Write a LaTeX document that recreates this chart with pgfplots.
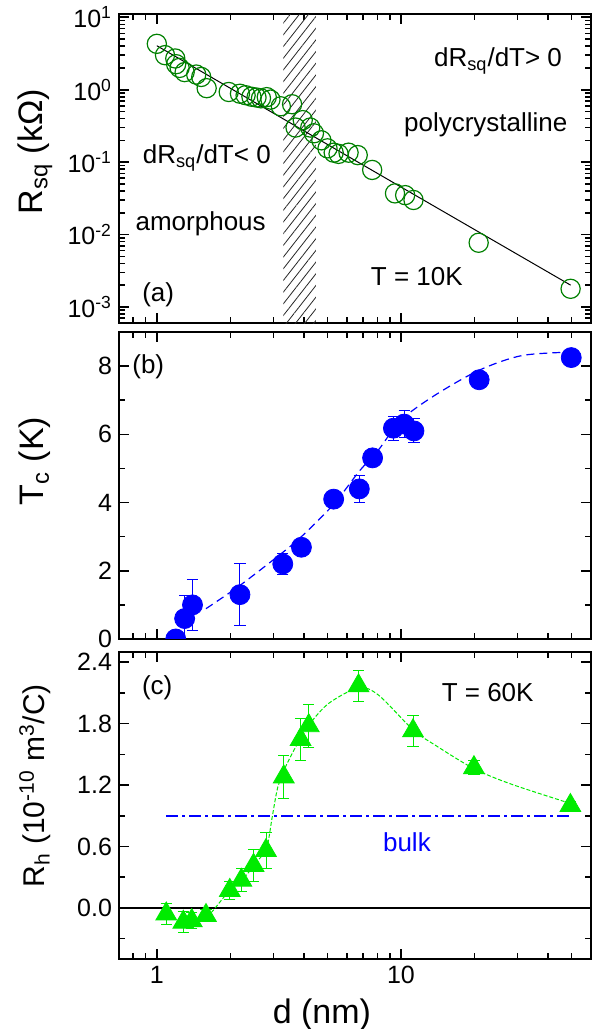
\documentclass[border=0pt]{standalone}
\usepackage{fontspec}
\setmainfont{Liberation Sans}
\usepackage{pgfplots}
\pgfplotsset{compat=1.18}
\usetikzlibrary{patterns.meta}
\definecolor{dgreen}{rgb}{0,0.5,0}
\definecolor{lgreen}{rgb}{0,0.92,0}
\definecolor{pblue}{rgb}{0,0,1}
\newcommand{\ann}{\fontsize{13}{15}\selectfont}
\begin{document}
\begin{tikzpicture}
\useasboundingbox (-59.5pt,7pt) rectangle (237.5pt,-507.5pt);
% ---------------- panel (a)
\begin{axis}[scale only axis, width=236pt, height=154.5pt,
  at={(0,0)}, anchor=north west,
  xmode=log, log basis x=10, xmin=0.7, xmax=60,
  ymode=log, log basis y=10, ymin=6e-4, ymax=11.1,
  axis line style={line width=1pt},
  every tick/.style={black, line width=0.8pt},
  major tick length=5pt, minor tick length=3pt,
  tick label style={font=\fontsize{12.5}{14}\selectfont},
  label style={font=\fontsize{17}{20}\selectfont},
  yticklabel={10\textsuperscript{\pgfmathparse{int(round(\tick))}\pgfmathresult}},
  xticklabels={},
  ylabel={R\textsubscript{sq} (kΩ)},
  ylabel style={at={(axis description cs:-0.178,0.554)}, anchor=center}]
\addplot[draw=none, pattern={Lines[angle=52,distance=3.6pt,line width=0.4pt]}, pattern color=black!85]
  coordinates {(3.30,1e-4) (3.30,100) (4.48,100) (4.48,1e-4) (3.30,1e-4)};
\addplot[black, line width=0.5pt] coordinates {(1,4.05) (49.5,0.002)};
\addplot[only marks, mark=o, mark size=4.8pt, dgreen, mark options={line width=0.6pt}] coordinates {
(1.00,4.3) (1.08,3.0) (1.19,2.7) (1.20,2.25) (1.24,2.0) (1.30,1.75) (1.45,1.62) (1.52,1.5) (1.60,1.05)
(1.97,0.93) (2.19,0.88) (2.31,0.84) (2.44,0.80) (2.56,0.78) (2.67,0.76) (2.82,0.79) (2.92,0.73)
(3.22,0.59) (3.58,0.63) (3.70,0.30) (3.96,0.38) (4.25,0.30) (4.40,0.25) (4.72,0.20) (5.00,0.155)
(5.30,0.135) (5.55,0.13) (6.10,0.135) (6.65,0.125) (7.62,0.078) (9.45,0.037) (10.4,0.035) (11.25,0.030)
(20.8,0.0077) (49.5,0.00178)};
\node[font=\ann, anchor=base] at (rel axis cs:0.803,0.829) {dR\textsubscript{sq}/dT> 0};
\node[font=\ann, anchor=base] at (rel axis cs:0.777,0.619) {polycrystalline};
\node[font=\ann, anchor=base] at (rel axis cs:0.186,0.515) {dR\textsubscript{sq}/dT< 0};
\node[font=\ann, anchor=base] at (rel axis cs:0.173,0.299) {amorphous};
\node[font=\ann, anchor=base] at (rel axis cs:0.631,0.121) {T = 10K};
\node[font=\ann, anchor=base] at (rel axis cs:0.083,0.069) {(a)};
\end{axis}
% ---------------- panel (b)
\begin{axis}[scale only axis, width=236pt, height=153.5pt,
  at={(0,-159pt)}, anchor=north west,
  xmode=log, log basis x=10, xmin=0.7, xmax=60,
  ymin=0, ymax=9, ytick={0,2,4,6,8}, yticklabels={0,2,4,6,8}, minor ytick={1,3,5,7},
  axis line style={line width=1pt},
  every tick/.style={black, line width=0.8pt},
  major tick length=5pt, minor tick length=3pt,
  tick label style={font=\fontsize{12.5}{14}\selectfont},
  label style={font=\fontsize{17}{20}\selectfont},
  xticklabels={}, clip marker paths=true,
  ylabel={T\textsubscript{c} (K)},
  ylabel style={at={(axis description cs:-0.178,0.58)}, anchor=center}]
\addplot[pblue, line width=0.6pt, dash pattern=on 4pt off 2.5pt, smooth] coordinates {
(1.59,0.89) (2.19,1.57) (3.28,2.54) (3.95,3.03) (5.3,3.95) (6.75,4.92) (8.1,5.55) (10,6.42)
(13.8,7.15) (20.9,7.88) (31.3,8.31) (49.8,8.41)};
\addplot[pblue, only marks, mark=*, mark size=5pt, mark options={draw=pblue, fill=pblue},
  error bars/.cd, y dir=both, y explicit,
  error bar style={line width=0.5pt, draw=pblue},
  error mark options={rotate=90, mark size=2.8pt, line width=0.5pt, draw=pblue}] coordinates {
(1.195,0) +- (0,0.1)
(1.30,0.6) +- (0,0.68)
(1.40,1.0) +- (0,0.74)
(2.19,1.3) +- (0,0.9)
(3.28,2.2) +- (0,0.3)
(3.91,2.69) +- (0,0.1)
(5.30,4.1) +- (0,0.1)
(6.75,4.4) +- (0,0.4)
(7.65,5.31) +- (0,0.1)
(9.31,6.18) +- (0,0.35)
(10.3,6.3) +- (0,0.4)
(11.3,6.1) +- (0,0.35)
(20.9,7.6) +- (0,0.1)
(49.8,8.25) +- (0,0.1)};
\node[font=\ann, anchor=base] at (rel axis cs:0.062,0.865) {(b)};
\end{axis}
% ---------------- panel (c)
\begin{axis}[scale only axis, width=236pt, height=153.5pt,
  at={(0,-319pt)}, anchor=north west,
  xmode=log, log basis x=10, xmin=0.7, xmax=60,
  ymin=-0.5, ymax=2.5, ytick={0,0.6,1.2,1.8,2.4}, yticklabels={0.0,0.6,1.2,1.8,2.4},
  minor ytick={-0.3,0.3,0.9,1.5,2.1},
  axis line style={line width=1pt},
  every tick/.style={black, line width=0.8pt},
  major tick length=5pt, minor tick length=3pt,
  tick label style={font=\fontsize{12.5}{14}\selectfont},
  label style={font=\fontsize{17}{20}\selectfont},
  xticklabel={\pgfmathparse{int(round(10^\tick))}\pgfmathresult},
  xlabel={d (nm)},
  xlabel style={at={(axis description cs:0.43,-0.18)}, anchor=center},
  ylabel={R\textsubscript{h} (10\textsuperscript{-10} m\textsuperscript{3}/C)},
  ylabel style={at={(axis description cs:-0.178,0.564)}, anchor=center, font=\fontsize{15}{18}\selectfont}]
\addplot[black, line width=0.9pt] coordinates {(0.7,0) (60,0)};
\addplot[pblue, line width=1pt, dash pattern=on 6pt off 2pt on 1.5pt off 2pt] coordinates {(1.093,0.9) (49.4,0.9)};
\addplot[lgreen, line width=0.5pt, dash pattern=on 2pt off 1pt, smooth] coordinates {
(1.59,-0.075) (1.68,-0.04) (1.94,0.14) (2.23,0.27) (2.57,0.45) (2.82,0.59) (2.97,0.89) (3.13,1.18)
(3.37,1.38) (3.74,1.59) (4.24,1.80) (5.07,2.0) (6.70,2.15) (8.08,2.08) (11.2,1.74) (13.8,1.59)
(19.9,1.36) (28.2,1.21) (49.4,1.02)};
\addplot[lgreen, only marks, mark=triangle*, mark size=6pt,
  error bars/.cd, y dir=both, y explicit,
  error bar style={line width=0.5pt, draw=lgreen},
  error mark options={rotate=90, mark size=2.8pt, line width=0.5pt, draw=lgreen}] coordinates {
(1.093,-0.06) +- (0,0.1)
(1.284,-0.14) +- (0,0.1)
(1.39,-0.125) +- (0,0.08)
(1.59,-0.075) +- (0,0.06)
(1.99,0.17) +- (0,0.09)
(2.22,0.27) +- (0,0.11)
(2.49,0.415) +- (0,0.16)
(2.80,0.56) +- (0,0.18)
(3.31,1.28) +- (0,0.21)
(3.88,1.645) +- (0,0.21)
(4.19,1.78) +- (0,0.21)
(6.70,2.17) +- (0,0.15)
(11.2,1.73) +- (0,0.15)
(19.9,1.37) +- (0,0.07)
(49.4,1.0) +- (0,0.04)};
\node[font=\ann, anchor=base] at (rel axis cs:0.081,0.862) {(c)};
\node[font=\ann, anchor=base] at (rel axis cs:0.781,0.838) {T = 60K};
\node[font=\ann, anchor=base, text=pblue] at (rel axis cs:0.61,0.35) {bulk};
\end{axis}
\end{tikzpicture}
\end{document}
